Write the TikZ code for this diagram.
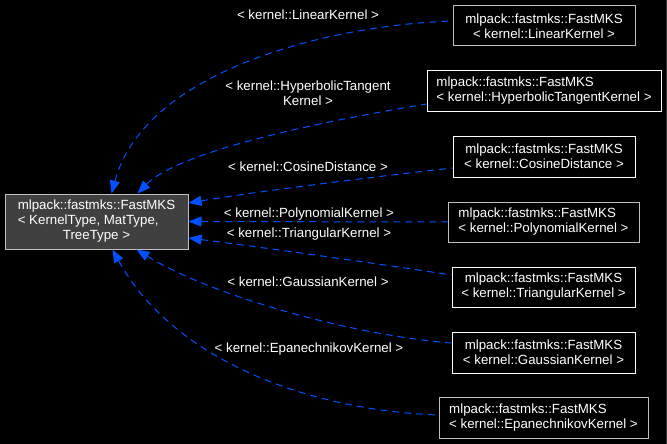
\documentclass[tikz,border=0pt]{standalone}
\usepackage{fontspec}
\setmainfont{Liberation Sans}
\usetikzlibrary{arrows.meta,calc}
\definecolor{edgeblue}{RGB}{0,80,255}
\definecolor{maingray}{RGB}{64,64,64}
\definecolor{bordergray}{RGB}{191,191,191}
\definecolor{framegray}{RGB}{51,51,51}
\tikzset{
  txt/.style={font=\fontsize{13.3}{15}\selectfont, text=white},
  mainbox/.style={txt, draw=bordergray, fill=maingray, line width=1pt, inner sep=0pt, minimum width=183pt, minimum height=55pt},
  childbox/.style={txt, draw=white, fill=black, line width=1pt, inner sep=0pt, minimum height=40pt, align=center},
  childgray/.style={childbox, draw=bordergray},
  lbl/.style={txt, inner sep=0pt, align=center},
  edge/.style={draw=edgeblue, line width=1pt, dash pattern=on 7pt off 5pt, arrows={Triangle[length=13pt,width=10pt,fill=edgeblue]-}}
}
\begin{document}
\begin{tikzpicture}[x=1pt,y=-1pt]
\fill[black] (0,0) rectangle (667,444);
\useasboundingbox (0,0) rectangle (667,444);
\draw[framegray, line width=1pt] (666.5,0) -- (666.5,444);

\node[mainbox] (main) at (96.5,221.5) {\begin{tabular}{@{}l@{}}mlpack::fastmks::FastMKS\\< KernelType, MatType,\\\multicolumn{1}{@{}c@{}}{TreeType >}\end{tabular}};

\node[childgray, minimum width=182pt] (lin) at (544,26) {mlpack::fastmks::FastMKS\\< kernel::LinearKernel >};
\node[childbox, minimum width=234pt, align=left] (hyp) at (544,91) {mlpack::fastmks::FastMKS\\< kernel::HyperbolicTangentKernel >};
\node[childbox, minimum width=182pt, minimum height=41pt] (cos) at (544,156.5) {mlpack::fastmks::FastMKS\\< kernel::CosineDistance >};
\node[childgray, minimum width=191pt, align=left] (poly) at (543.5,222) {mlpack::fastmks::FastMKS\\< kernel::PolynomialKernel >};
\node[childbox, minimum width=183pt] (tri) at (543.5,287) {mlpack::fastmks::FastMKS\\< kernel::TriangularKernel >};
\node[childbox, minimum width=183pt, minimum height=41pt] (gau) at (543.5,352.5) {mlpack::fastmks::FastMKS\\< kernel::GaussianKernel >};
\node[childgray, minimum width=209pt, minimum height=41pt, align=left] (epa) at (543.5,417.5) {mlpack::fastmks::FastMKS\\< kernel::EpanechnikovKernel >};

\node[lbl] (llin) at (308,15) {< kernel::LinearKernel >};
\node[lbl] (lhyp) at (308,93.5) {< kernel::HyperbolicTangent\\Kernel >};
\node[lbl] (lcos) at (308,167) {< kernel::CosineDistance >};
\node[lbl] (lpoly) at (309,214) {< kernel::PolynomialKernel >};
\node[lbl] (ltri) at (309,234) {< kernel::TriangularKernel >};
\node[lbl] (lgau) at (308,282) {< kernel::GaussianKernel >};
\node[lbl] (lepa) at (309,349) {< kernel::EpanechnikovKernel >};

\draw[edge] ([xshift=107pt]main.north west) .. controls (145,70) and (330,25) .. ([yshift=5pt]lin.west);
\draw[edge] ([xshift=133pt]main.north west) .. controls (180,150) and (330,120) .. ([yshift=-13pt]hyp.west);
\draw[edge] ([yshift=18.5pt]main.east) .. controls (260,191) and (380,176) .. ([yshift=-11.5pt]cos.west);
\draw[edge] (main.east) -- (poly.west);
\draw[edge] ([yshift=-16.5pt]main.east) .. controls (260,247) and (380,264) .. ([yshift=12pt]tri.west);
\draw[edge] ([xshift=132pt]main.south west) .. controls (210,295) and (350,335) .. ([yshift=9.5pt]gau.west);
\draw[edge] ([xshift=108pt]main.south west) .. controls (170,355) and (300,410) .. ([yshift=2.5pt]epa.west);
\end{tikzpicture}
\end{document}
